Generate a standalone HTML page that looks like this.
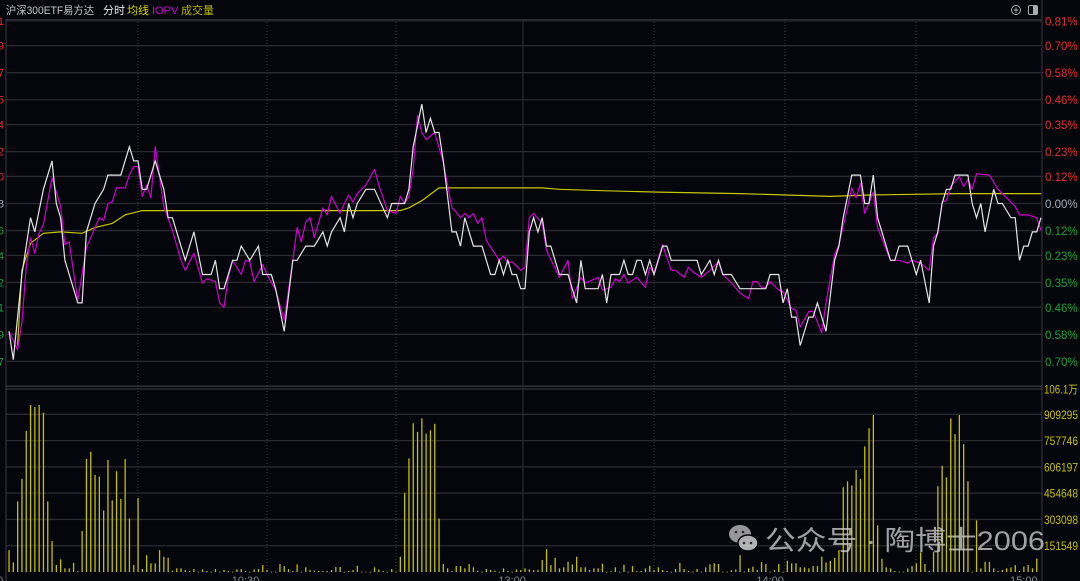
<!DOCTYPE html>
<html><head><meta charset="utf-8">
<style>
html,body{margin:0;padding:0;background:#05050c;}
body{width:1080px;height:581px;overflow:hidden;position:relative;font-family:"Liberation Sans","Noto Sans CJK SC",sans-serif;}
svg{position:absolute;left:0;top:0;}
</style></head>
<body>
<svg id="chart" width="1080" height="581" viewBox="0 0 1080 581" xmlns="http://www.w3.org/2000/svg">
  <rect x="0" y="0" width="1080" height="581" fill="#05050c"/>
  <g id="grid"></g>
  <g id="vol"></g>
  <g id="lines"></g>
  <g id="axes"></g>
  <g font-size="11">
    <text x="6" y="14" fill="#c8c8c8" textLength="88" lengthAdjust="spacingAndGlyphs">沪深300ETF易方达</text>
    <text x="103" y="14" fill="#e8e8e8">分时</text>
    <text x="127" y="14" fill="#d8d800">均线</text>
    <text x="152" y="14" fill="#d000d0">IOPV</text>
    <text x="181" y="14" fill="#b8b800">成交量</text>
  </g>
  <g>
    <circle cx="1016" cy="10" r="4.5" fill="none" stroke="#aaa" stroke-width="1"/>
    <line x1="1013.5" y1="10" x2="1018.5" y2="10" stroke="#aaa"/>
    <line x1="1016" y1="7.5" x2="1016" y2="12.5" stroke="#aaa"/>
  </g>
  <g>
    <rect x="1028.5" y="5.5" width="9" height="9" rx="1.5" fill="none" stroke="#aaa"/>
    <rect x="1033" y="6" width="4" height="8" fill="#aaa"/>
  </g>
  <g opacity="0.8">
    <ellipse cx="740" cy="534" rx="11" ry="9" fill="#bbb"/>
    <ellipse cx="748" cy="543" rx="10" ry="8" fill="#ddd" stroke="#05050c" stroke-width="1.5"/>
    <circle cx="744" cy="543" r="1.3" fill="#333"/><circle cx="751" cy="543" r="1.3" fill="#333"/>
    <circle cx="736" cy="532" r="1.3" fill="#333"/><circle cx="743" cy="532" r="1.3" fill="#333"/>
    <text x="765" y="550" font-size="27" fill="#c8c8c8" textLength="280" lengthAdjust="spacingAndGlyphs">公众号 · 陶博士2006</text>
  </g>
</svg>
<script>
// ---- data ----
const prevClose = 1.588;
const priceTicks = [0.81,0.70,0.58,0.46,0.35,0.23,0.12,0.00,-0.12,-0.23,-0.35,-0.46,-0.58,-0.70];
const priceTickLabels = ["0.81%","0.70%","0.58%","0.46%","0.35%","0.23%","0.12%","0.00%","0.12%","0.23%","0.35%","0.46%","0.58%","0.70%"];
const leftTickLabels = ["1.601","1.599","1.597","1.595","1.594","1.592","1.590","1.588","1.586","1.584","1.582","1.581","1.579","1.577"];
const volTicks = [1061,909.295,757.746,606.197,454.648,303.098,151.549];
const volTickLabels = ["106.1万","909295","757746","606197","454648","303098","151549"];
const timeLabels = ["0","10:30","13:00","14:00","15:00"];
const timeLabelMin = [0,55,117,177,236];

const priceMin = [0,1,2,3,5,6,8,10,11,12,13,16,17,18,20,22,23,26,28,29,30,31,32,34,36,37,38,41,43,45,47,48,49,50,52,53,54,56,58,59,61,62,64,66,67,69,71,73,74,75,77,78,79,80,81,83,85,88,89,92,93,94,96,97,98,99,100,101,103,104,105,106,108,110,112,113,114,115,116,117,118,119,120,121,122,123,124,125,126,128,130,132,133,134,137,138,139,140,142,143,144,145,146,147,148,149,150,152,153,154,160,161,163,164,165,166,168,170,176,177,179,180,181,182,183,184,186,187,188,190,192,193,194,196,198,199,200,201,202,205,206,207,209,211,212,214,215,216,217,218,219,220,223,224,225,226,227,229,230,231,233,234,235,236,237,238,239,240];
const priceVal = [1.579,1.577,1.580,1.583,1.587,1.586,1.589,1.591,1.588,1.587,1.584,1.581,1.581,1.586,1.588,1.589,1.590,1.590,1.592,1.591,1.591,1.589,1.589,1.591,1.589,1.587,1.587,1.584,1.586,1.583,1.583,1.584,1.582,1.582,1.584,1.584,1.585,1.584,1.585,1.583,1.583,1.582,1.579,1.584,1.584,1.585,1.585,1.586,1.585,1.586,1.587,1.586,1.588,1.587,1.588,1.589,1.589,1.587,1.588,1.588,1.589,1.592,1.595,1.593,1.594,1.593,1.593,1.591,1.586,1.586,1.585,1.587,1.585,1.585,1.583,1.583,1.584,1.583,1.584,1.583,1.583,1.582,1.582,1.586,1.587,1.586,1.587,1.585,1.585,1.583,1.583,1.581,1.584,1.582,1.582,1.583,1.581,1.583,1.583,1.584,1.583,1.583,1.584,1.584,1.583,1.584,1.583,1.585,1.585,1.584,1.584,1.583,1.584,1.583,1.584,1.583,1.583,1.582,1.582,1.583,1.583,1.581,1.582,1.580,1.580,1.578,1.580,1.580,1.581,1.579,1.584,1.585,1.587,1.590,1.590,1.588,1.588,1.590,1.587,1.584,1.584,1.585,1.585,1.583,1.584,1.581,1.585,1.586,1.588,1.589,1.589,1.590,1.590,1.588,1.587,1.588,1.586,1.589,1.588,1.588,1.587,1.587,1.584,1.585,1.585,1.586,1.586,1.587];

const iopvMin = [0,2,3,4,5,6,7,8,10,12,13,14,15,16,18,19,21,22,23,24,25,27,28,29,30,31,32,33,34,36,38,40,41,43,45,46,48,49,50,51,52,54,55,56,57,59,60,62,64,66,67,68,69,70,71,73,74,75,77,78,79,80,81,83,85,86,88,90,91,92,93,94,95,96,97,99,101,103,104,105,106,107,108,109,110,111,114,115,116,117,119,120,121,122,124,125,128,130,131,133,134,137,138,140,141,142,143,144,146,148,149,150,152,154,155,157,158,159,161,163,165,166,168,170,172,173,174,175,176,177,179,180,182,183,184,186,187,189,190,192,193,195,196,197,198,199,201,202,205,207,209,210,212,214,215,216,217,218,219,221,222,223,224,225,228,230,234,235,237,239,240];
const iopvVal = [1.5790,1.5777,1.5796,1.5835,1.5856,1.5845,1.5859,1.5865,1.5898,1.5878,1.5851,1.5853,1.5832,1.5812,1.5849,1.5856,1.5870,1.5868,1.5880,1.5881,1.5891,1.5891,1.5900,1.5906,1.5906,1.5885,1.5893,1.5884,1.5920,1.5878,1.5861,1.5840,1.5833,1.5845,1.5824,1.5827,1.5825,1.5810,1.5807,1.5828,1.5840,1.5830,1.5840,1.5839,1.5825,1.5837,1.5830,1.5819,1.5798,1.5840,1.5863,1.5853,1.5867,1.5870,1.5856,1.5877,1.5872,1.5885,1.5873,1.5880,1.5886,1.5881,1.5887,1.5893,1.5904,1.5893,1.5875,1.5873,1.5885,1.5880,1.5885,1.5904,1.5942,1.5930,1.5925,1.5930,1.5909,1.5877,1.5874,1.5870,1.5873,1.5870,1.5873,1.5866,1.5870,1.5854,1.5840,1.5843,1.5838,1.5839,1.5833,1.5835,1.5870,1.5873,1.5866,1.5847,1.5828,1.5840,1.5813,1.5828,1.5824,1.5828,1.5819,1.5821,1.5827,1.5825,1.5830,1.5824,1.5828,1.5821,1.5835,1.5831,1.5851,1.5833,1.5833,1.5828,1.5835,1.5832,1.5828,1.5833,1.5839,1.5830,1.5824,1.5817,1.5813,1.5825,1.5825,1.5821,1.5821,1.5825,1.5819,1.5818,1.5806,1.5805,1.5793,1.5804,1.5804,1.5789,1.5810,1.5844,1.5851,1.5877,1.5891,1.5884,1.5894,1.5873,1.5888,1.5863,1.5840,1.5840,1.5838,1.5840,1.5838,1.5833,1.5856,1.5859,1.5881,1.5882,1.5892,1.5899,1.5892,1.5897,1.5890,1.5901,1.5900,1.5890,1.5878,1.5872,1.5872,1.5870,1.5861];

const avgMin = [2,3,5,8,12,17,20,24,27,31,35,59,91,93,96,100,124,128,138,151,170,191,200,221,240];
const avgVal = [1.5780,1.5833,1.5852,1.5859,1.5860,1.5859,1.5863,1.5866,1.5872,1.5875,1.5875,1.5875,1.5875,1.5877,1.5882,1.5891,1.5891,1.5890,1.5889,1.5888,1.5887,1.5885,1.5886,1.5887,1.5887];

// volume per minute, thousands of shares
const volume = [126,55,407,537,814,963,951,963,919,407,178,40,73,21,21,53,6,237,651,693,560,550,355,646,413,581,422,651,308,40,426,17,97,50,50,126,88,82,8,21,21,11,6,17,2,15,6,2,17,2,11,6,2,15,17,6,2,15,17,40,11,2,2,46,34,17,6,44,2,27,11,8,6,6,6,11,29,29,2,6,11,36,
2,2,2,27,15,6,2,17,2,88,456,655,858,808,886,798,817,854,308,46,21,6,34,34,21,46,27,8,2,17,11,8,2,21,6,2,15,11,21,15,11,11,69,132,40,82,21,27,59,44,88,27,27,11,21,21,48,2,6,27,2,42,2,34,6,6,21,36,11,27,11,6,2,17,52,17,6,2,17,2,27,44,50,
46,2,2,11,15,97,2,21,31,11,57,46,2,11,46,2,65,50,50,27,27,21,34,34,88,55,63,82,126,489,523,499,588,537,724,829,905,269,76,27,21,6,2,2,21,34,50,113,46,6,117,495,613,546,886,795,905,737,523,2,298,21,59,59,21,6,11,21,27,40,6,31,40,21,78];

// ---- scales ----
const X0 = 9, XSTEP = 4.3;
function xScale(m){ return X0 + m*XSTEP; }
const ZERO_Y = 203.5, PX_PER_PCT = 182.7/0.81;
function pctOf(p){ return (p/prevClose - 1)*100; }
function yPrice(p){ return ZERO_Y - pctOf(p)*PX_PER_PCT; }
function yPct(pct){ return ZERO_Y - pct*PX_PER_PCT; }
const VOL_BASE = 572, VOL_MAX = 1061, VOL_H = 184;
function yVol(v){ return VOL_BASE - v/VOL_MAX*VOL_H; }

const NS = "http://www.w3.org/2000/svg";
function mk(tag, attrs, parent){
  const e = document.createElementNS(NS, tag);
  for (const k in attrs) e.setAttribute(k, attrs[k]);
  parent.appendChild(e);
  return e;
}
const grid = document.getElementById('grid');
const axes = document.getElementById('axes');
const volG = document.getElementById('vol');
const linesG = document.getElementById('lines');

for (let i=0;i<priceTicks.length;i++){
  const y = yPct(priceTicks[i]);
  const ln = mk('line',{x1:6,x2:1042,y1:y,y2:y,stroke:'#2a2a30','stroke-width':1.3},grid);
  
  
  const col = priceTicks[i]>0 ? '#e0302a' : (priceTicks[i]<0 ? '#19a33a' : '#aab0bb');
  const t = mk('text',{x:1045,y:y+4.5,fill:col,'font-size':11.5},axes);
  t.textContent = priceTickLabels[i];
  
  
  const lt = mk('text',{x:4,y:y+4,fill:col,'font-size':11,'text-anchor':'end'},axes);
  lt.textContent = leftTickLabels[i];
  
  
}
[386.2, 389].forEach(function(y){
  const d = mk('line',{x1:6,x2:1042,y1:y,y2:y,stroke:'#34343a','stroke-width':1.3},grid);
  
  
});
for (let i=0;i<volTicks.length;i++){
  const y = yVol(volTicks[i]);
  if (i>0){
    const ln = mk('line',{x1:6,x2:1042,y1:y,y2:y,stroke:'#2a2a30','stroke-width':1.3},grid);
    
    
  }
  const t = mk('text',{x:1044,y:(i===0?389:y)+4.5,fill:'#c8c000','font-size':11.5,textLength:34,lengthAdjust:'spacingAndGlyphs'},axes);
  t.textContent = volTickLabels[i];
  
  
}
const vgx = [138,267,396,523,654,785,916];
vgx.forEach(function(x,i){
  const solid = i===3;
  const ln = mk('line',{x1:x,x2:x,y1:19,y2:572,stroke:solid?'#2e2e34':'#3a3a40','stroke-width':1,'stroke-dasharray':solid?'none':'1,2'},grid);
  
  
});
const lb = mk('line',{x1:6,x2:6,y1:19,y2:581,stroke:'#3a3a40'},grid);


const rb = mk('line',{x1:1042,x2:1042,y1:0,y2:581,stroke:'#3a3a40'},grid);


const tb = mk('line',{x1:6,x2:1042,y1:19.5,y2:19.5,stroke:'#2a2a30'},grid);



for (let i=0;i<timeLabels.length;i++){
  const t = mk('text',{x:i===0?-3:xScale(timeLabelMin[i]),y:584,fill:'#8a8a90','font-size':11,'text-anchor':i===0?'start':'middle'},axes);
  t.textContent = timeLabels[i];
  
  
}

for (let i=0;i<volume.length;i++){
  const x = xScale(i);
  const y = yVol(volume[i]);
  const b = mk('rect',{x:x-0.6,y:y,width:1.3,height:Math.max(0.8,VOL_BASE-y),fill:'#c2c000'},volG);
  
  
}

function path(mins, vals){
  let d = '';
  for (let i=0;i<mins.length;i++){
    d += (i?'L':'M') + xScale(mins[i]).toFixed(1) + ',' + yPrice(vals[i]).toFixed(1);
  }
  return d;
}
const avgP = mk('path',{d:path(avgMin,avgVal),fill:'none',stroke:'#c8c800','stroke-width':1.2},linesG);


const iopvP = mk('path',{d:path(iopvMin,iopvVal),fill:'none',stroke:'#d000d0','stroke-width':1.2,'stroke-linejoin':'round'},linesG);


const priceP = mk('path',{d:path(priceMin,priceVal),fill:'none',stroke:'#e6e6e6','stroke-width':1.2},linesG);


</script>
</body></html>
